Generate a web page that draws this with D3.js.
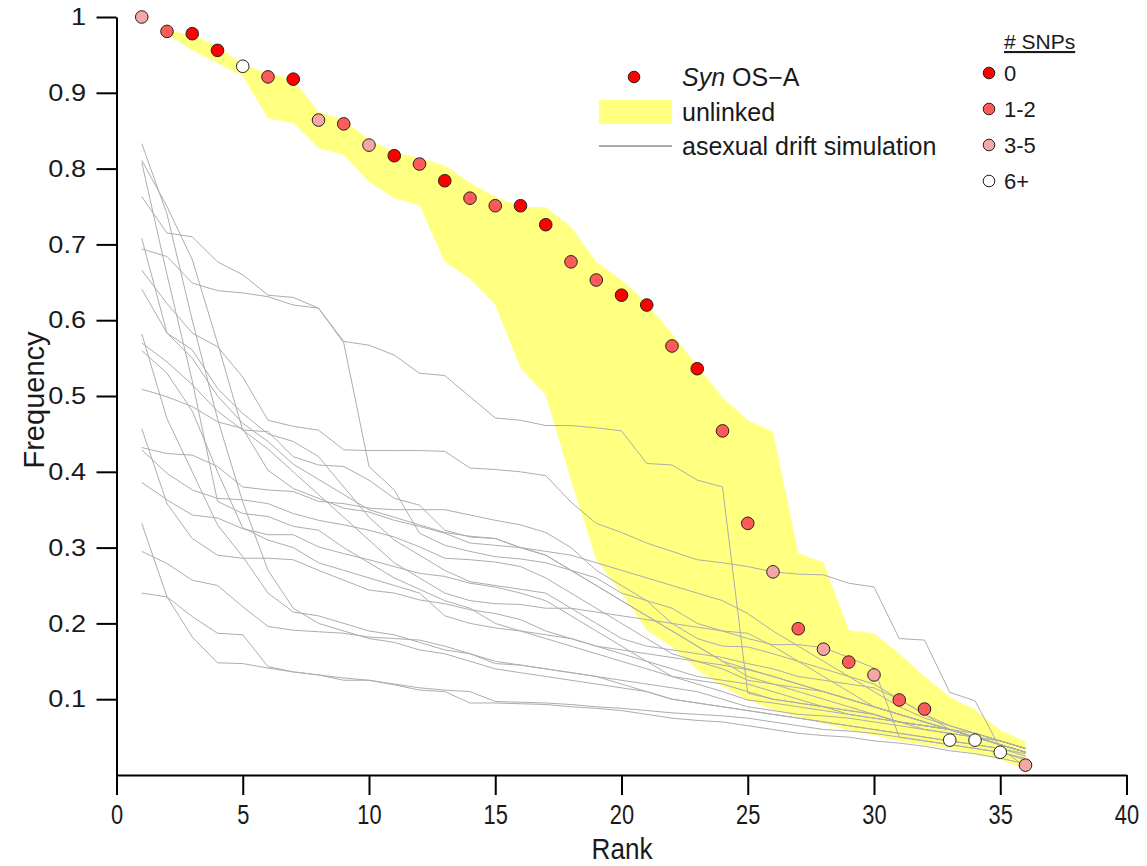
<!DOCTYPE html>
<html><head><meta charset="utf-8">
<script src="https://cdn.jsdelivr.net/npm/d3@7"></script>
<style>
html,body{margin:0;padding:0;background:#fff;}
svg{display:block;}
text{font-family:"Liberation Sans",Arial,Helvetica,sans-serif;fill:#1a1a1a;}
</style></head>
<body>
<svg id="chart" width="1147" height="866"></svg>
<script>
// ---- data ----
const ranks = d3.range(1, 37);
const synFreq = [1.0,0.981,0.978,0.956,0.935,0.921,0.918,0.864,0.859,0.831,0.817,0.806,0.784,0.761,0.751,0.751,0.726,0.677,0.653,0.633,0.620,0.566,0.536,0.454,0.332,0.268,0.193,0.166,0.149,0.132,0.099,0.087,0.046,0.046,0.030,0.013];
const snpClass = ["3-5","1-2","0","0","6+","1-2","0","3-5","1-2","3-5","0","1-2","0","1-2","1-2","0","0","1-2","1-2","0","0","1-2","0","1-2","1-2","3-5","1-2","3-5","1-2","3-5","1-2","1-2","6+","6+","6+","3-5"];
const snpLabels = ["0","1-2","3-5","6+"];
const snpColors = ["#ff0000","#ff5a5a","#f7a6a6","#ffffff"];

const bandRanks = d3.range(2, 37);
const bandUpper = [0.982,0.977,0.961,0.937,0.926,0.917,0.875,0.864,0.838,0.822,0.814,0.804,0.781,0.763,0.750,0.749,0.723,0.677,0.653,0.622,0.582,0.540,0.498,0.468,0.453,0.293,0.280,0.191,0.187,0.160,0.130,0.103,0.086,0.059,0.044];
const bandLower = [0.978,0.956,0.939,0.922,0.866,0.860,0.827,0.818,0.783,0.761,0.752,0.677,0.655,0.620,0.537,0.501,0.389,0.284,0.240,0.191,0.169,0.139,0.117,0.099,0.086,0.077,0.068,0.059,0.052,0.045,0.040,0.035,0.028,0.020,0.008];

const sim01 = [0.833,0.74,0.60,0.47,0.36,0.27,0.22,0.20,0.19,0.18,0.175,0.165,0.16,0.15,0.14,0.135,0.13,0.125,0.12,0.115,0.11,0.10,0.095,0.09,0.085,0.08,0.075,0.07,0.065,0.06,0.055,0.05,0.045,0.04,0.035,0.028];
const sim02 = [0.811,0.75,0.68,0.57,0.455,0.453,0.42,0.409,0.407,0.389,0.365,0.356,0.323,0.314,0.312,0.30,0.29,0.27,0.25,0.23,0.21,0.19,0.17,0.15,0.14,0.13,0.12,0.11,0.10,0.09,0.08,0.07,0.06,0.05,0.04,0.03];
const sim03 = [0.808,0.66,0.52,0.361,0.345,0.341,0.328,0.323,0.30,0.28,0.26,0.245,0.23,0.22,0.20,0.19,0.18,0.17,0.16,0.15,0.14,0.13,0.125,0.12,0.11,0.10,0.095,0.09,0.08,0.075,0.07,0.065,0.06,0.05,0.04,0.03];
const sim04 = [0.763,0.715,0.710,0.677,0.660,0.633,0.630,0.616,0.572,0.567,0.554,0.530,0.527,0.499,0.471,0.468,0.461,0.461,0.458,0.454,0.411,0.409,0.389,0.380,0.108,0.10,0.095,0.09,0.085,0.08,0.07,0.065,0.06,0.055,0.045,0.035];
const sim05 = [0.708,0.583,0.55,0.50,0.464,0.44,0.41,0.39,0.37,0.35,0.34,0.33,0.32,0.315,0.312,0.30,0.295,0.29,0.28,0.27,0.26,0.25,0.24,0.23,0.213,0.19,0.17,0.15,0.13,0.11,0.09,0.075,0.065,0.055,0.045,0.035];
const sim06 = [0.694,0.684,0.649,0.639,0.636,0.631,0.620,0.616,0.57,0.407,0.376,0.319,0.303,0.295,0.288,0.285,0.28,0.27,0.26,0.24,0.23,0.22,0.20,0.19,0.18,0.172,0.172,0.168,0.155,0.141,0.05,0.045,0.04,0.035,0.03,0.02];
const sim07 = [0.666,0.622,0.583,0.565,0.525,0.468,0.46,0.455,0.429,0.428,0.428,0.428,0.427,0.405,0.403,0.40,0.395,0.36,0.332,0.32,0.306,0.295,0.284,0.28,0.275,0.268,0.265,0.264,0.253,0.248,0.18,0.178,0.109,0.098,0.035,0.011];
const sim08 = [0.641,0.583,0.561,0.510,0.477,0.45,0.44,0.42,0.38,0.34,0.31,0.29,0.27,0.255,0.25,0.245,0.24,0.22,0.20,0.18,0.17,0.165,0.16,0.155,0.147,0.14,0.13,0.125,0.12,0.115,0.10,0.08,0.06,0.05,0.04,0.03];
const sim09 = [0.582,0.47,0.40,0.33,0.288,0.24,0.215,0.21,0.20,0.19,0.185,0.175,0.165,0.16,0.15,0.145,0.14,0.135,0.13,0.12,0.11,0.10,0.095,0.09,0.085,0.08,0.075,0.07,0.065,0.06,0.055,0.05,0.045,0.04,0.035,0.025];
const sim10 = [0.570,0.545,0.515,0.48,0.455,0.43,0.40,0.37,0.34,0.31,0.28,0.26,0.24,0.23,0.226,0.225,0.22,0.22,0.215,0.21,0.205,0.20,0.195,0.19,0.187,0.17,0.15,0.13,0.11,0.09,0.08,0.07,0.06,0.05,0.045,0.035];
const sim11 = [0.560,0.53,0.48,0.40,0.326,0.31,0.30,0.28,0.27,0.26,0.25,0.24,0.21,0.20,0.194,0.19,0.185,0.18,0.17,0.16,0.15,0.14,0.13,0.125,0.12,0.11,0.10,0.09,0.085,0.08,0.07,0.065,0.06,0.05,0.04,0.03];
const sim12 = [0.509,0.499,0.486,0.466,0.457,0.402,0.378,0.365,0.352,0.347,0.336,0.328,0.319,0.306,0.303,0.30,0.29,0.27,0.25,0.23,0.21,0.19,0.17,0.15,0.13,0.12,0.11,0.10,0.09,0.08,0.07,0.065,0.06,0.05,0.045,0.035];
const sim13 = [0.457,0.358,0.312,0.290,0.286,0.286,0.284,0.270,0.257,0.244,0.240,0.231,0.226,0.218,0.213,0.205,0.19,0.18,0.17,0.165,0.16,0.155,0.15,0.145,0.139,0.13,0.12,0.11,0.10,0.09,0.08,0.07,0.06,0.05,0.04,0.03];
const sim14 = [0.432,0.424,0.422,0.407,0.380,0.376,0.374,0.361,0.358,0.352,0.350,0.350,0.350,0.343,0.336,0.33,0.32,0.30,0.27,0.25,0.23,0.20,0.18,0.17,0.169,0.16,0.15,0.14,0.13,0.12,0.10,0.08,0.065,0.055,0.045,0.035];
const sim15 = [0.429,0.398,0.376,0.365,0.363,0.358,0.345,0.336,0.330,0.323,0.314,0.301,0.286,0.284,0.281,0.275,0.26,0.24,0.22,0.20,0.18,0.16,0.15,0.14,0.125,0.12,0.115,0.11,0.10,0.09,0.08,0.07,0.06,0.05,0.04,0.03];
const sim16 = [0.386,0.363,0.343,0.339,0.325,0.317,0.317,0.301,0.292,0.284,0.275,0.266,0.262,0.253,0.248,0.24,0.23,0.21,0.19,0.17,0.15,0.13,0.12,0.11,0.099,0.095,0.09,0.085,0.08,0.075,0.07,0.06,0.055,0.05,0.04,0.03];
const sim17 = [0.332,0.235,0.182,0.148,0.147,0.141,0.136,0.132,0.128,0.125,0.12,0.115,0.112,0.11,0.097,0.096,0.095,0.093,0.09,0.088,0.085,0.082,0.08,0.078,0.075,0.07,0.065,0.06,0.058,0.055,0.05,0.045,0.04,0.035,0.03,0.022];
const sim18 = [0.295,0.279,0.257,0.250,0.222,0.196,0.191,0.189,0.187,0.182,0.180,0.178,0.17,0.16,0.147,0.145,0.14,0.135,0.13,0.125,0.12,0.115,0.11,0.10,0.09,0.085,0.08,0.078,0.075,0.07,0.065,0.06,0.055,0.05,0.04,0.03];
const sim19 = [0.240,0.235,0.209,0.187,0.185,0.143,0.136,0.132,0.125,0.125,0.119,0.112,0.110,0.095,0.095,0.094,0.093,0.09,0.088,0.085,0.08,0.075,0.072,0.07,0.065,0.06,0.055,0.052,0.05,0.045,0.042,0.038,0.032,0.028,0.022,0.015];
const simulations = [sim01,sim02,sim03,sim04,sim05,sim06,sim07,sim08,sim09,sim10,sim11,sim12,sim13,sim14,sim15,sim16,sim17,sim18,sim19];

const xTicks = d3.range(0, 41, 5);
const yTicks = [0.1,0.2,0.3,0.4,0.5,0.6,0.7,0.8,0.9,1];

// ---- drawing ----
const svg = d3.select("#chart");
const x = d3.scaleLinear().domain([0, 40]).range([116.5, 1126.5]);
const y = d3.scaleLinear().domain([0, 1]).range([775, 17]);
const color = d3.scaleOrdinal().domain(snpLabels).range(snpColors);

// band
const area = d3.area().x((d,i)=>x(bandRanks[i])).y0((d,i)=>y(bandLower[i])).y1((d,i)=>y(bandUpper[i]));
svg.append("path").datum(bandRanks).attr("d", area).attr("fill", "#ffff80");

// simulation lines
const line = d3.line().x((d,i)=>x(ranks[i])).y(d=>y(d));
svg.append("g").selectAll("path").data(simulations).join("path")
  .attr("d", line).attr("fill","none").attr("stroke","#adadad").attr("stroke-width",1);

// axes
const yAxis = d3.axisLeft(y).tickValues(yTicks).tickSize(20).tickSizeOuter(0).tickPadding(10)
  .tickFormat(d => d === 1 ? "1" : d3.format(".1f")(d));
const gy = svg.append("g").attr("transform","translate(116.5,0)").call(yAxis);
gy.selectAll("text").attr("font-size", 24).attr("font-family", '"Liberation Sans", Arial, sans-serif')
  .attr("fill","#1a1a1a").attr("x", -30.5/1.13).attr("transform","scale(1.13,1)");
gy.selectAll("line,path").attr("stroke","#000").attr("stroke-width",2);

const xAxis = d3.axisBottom(x).tickValues(xTicks).tickSize(20).tickSizeOuter(0).tickPadding(10);
const gx = svg.append("g").attr("transform","translate(0,775)").call(xAxis);
gx.selectAll("text").attr("font-size", 28).attr("font-family", '"Liberation Sans", Arial, sans-serif')
  .attr("fill","#1a1a1a").attr("y", 29).attr("transform","scale(0.78,1)");
gx.selectAll("line,path").attr("stroke","#000").attr("stroke-width",2);

// axis titles
svg.append("text").attr("x", 622/0.9).attr("y", 859).attr("text-anchor","middle").attr("font-size", 29)
  .attr("transform","scale(0.9,1)").text("Rank");
svg.append("text").attr("transform","translate(44,400) rotate(-90)").attr("text-anchor","middle").attr("font-size", 29).text("Frequency");

// dots
svg.append("g").selectAll("circle").data(synFreq).join("circle")
  .attr("cx",(d,i)=>x(ranks[i])).attr("cy",d=>y(d)).attr("r",6.3)
  .attr("fill",(d,i)=>color(snpClass[i])).attr("stroke","#222").attr("stroke-width",1);

// legend 1
const lg = svg.append("g");
lg.append("circle").attr("cx",634).attr("cy",77).attr("r",5.8).attr("fill","#ff0000").attr("stroke","#222").attr("stroke-width",1);
const t1 = lg.append("text").attr("x",682).attr("y",86).attr("font-size",25);
t1.append("tspan").attr("font-style","italic").text("Syn");
t1.append("tspan").text(" OS\u2212A");
lg.append("rect").attr("x",599).attr("y",100).attr("width",73).attr("height",24).attr("fill","#ffff80");
lg.append("text").attr("x",682).attr("y",121).attr("font-size",25).text("unlinked");
lg.append("line").attr("x1",599).attr("x2",672).attr("y1",146).attr("y2",146).attr("stroke","#aaaaaa").attr("stroke-width",2);
lg.append("text").attr("x",682).attr("y",155).attr("font-size",25).text("asexual drift simulation");

// legend 2
const lg2 = svg.append("g");
lg2.append("text").attr("x",1004).attr("y",49).attr("font-size",21).attr("font-family",'"Open Sans", sans-serif')
  .attr("text-decoration","underline").text("# SNPs");
lg2.selectAll("circle").data(snpLabels).join("circle")
  .attr("cx",989).attr("cy",(d,i)=>73+i*36).attr("r",5.8)
  .attr("fill",d=>color(d)).attr("stroke","#222").attr("stroke-width",1);
lg2.selectAll("text.lab").data(snpLabels).join("text").attr("class","lab")
  .attr("x",1004).attr("y",(d,i)=>81+i*36).attr("font-size",22).attr("font-family",'"Open Sans", sans-serif').text(d=>d);
</script>
</body></html>
